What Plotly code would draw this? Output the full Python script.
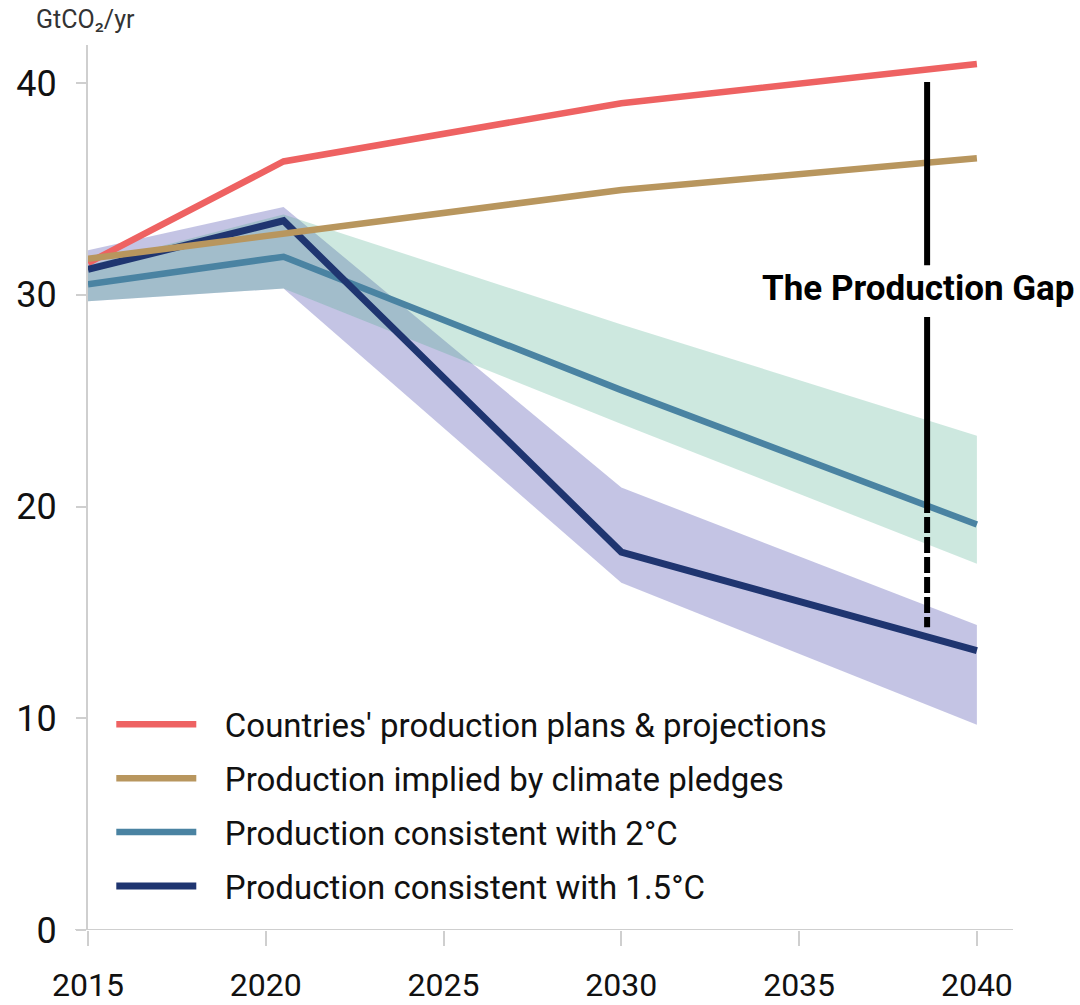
import plotly.graph_objects as go

# ---- data ----
years = [2015, 2020.5, 2030, 2040]
plans = [31.5, 36.3, 39.05, 40.9]          # Countries' production plans & projections
pledges = [31.7, 32.9, 34.95, 36.45]       # Production implied by climate pledges
c2 = [30.5, 31.8, 25.5, 19.15]             # consistent with 2°C
c2_hi = [31.4, 33.8, 28.6, 23.35]
c2_lo = [29.7, 30.3, 23.9, 17.3]
c15 = [31.2, 33.5, 17.85, 13.2]            # consistent with 1.5°C
c15_hi = [32.1, 34.15, 20.9, 14.4]
c15_lo = [29.7, 30.3, 16.4, 9.7]

names = ["Countries' production plans & projections",
         "Production implied by climate pledges",
         "Production consistent with 2°C",
         "Production consistent with 1.5°C"]

x_ticks = [2015, 2020, 2025, 2030, 2035, 2040]
y_ticks = [0, 10, 20, 30, 40]

gap_x = 2038.6
gap_solid_1 = [40.05, 31.4]
gap_solid_2 = [28.95, 20.45]
gap_dashed = [20.45, 14.3]
gap_label = "The Production Gap"
gap_label_x = 2038.35
gap_label_y = 30.3

RED = "#EE6262"
TAN = "#B8965E"
TEAL = "#4A83A2"
NAVY = "#1F3570"
GRID = "#CFCFCF"
TXT = "#111111"
FONT = "Roboto"
PAD = "\u2002\u2009"  # visual gap between legend line and label

fig = go.Figure()

# uncertainty bands (purple under green)
fig.add_trace(go.Scatter(x=years + years[::-1], y=c15_hi + c15_lo[::-1],
                         fill="toself", fillcolor="rgba(58,58,165,0.30)",
                         line=dict(width=0), mode="lines", showlegend=False,
                         hoverinfo="skip"))
fig.add_trace(go.Scatter(x=years + years[::-1], y=c2_hi + c2_lo[::-1],
                         fill="toself", fillcolor="rgba(70,170,137,0.27)",
                         line=dict(width=0), mode="lines", showlegend=False,
                         hoverinfo="skip"))

def line_trace(y, name, color, rank, width=6.5):
    return go.Scatter(x=years, y=y, name=PAD + name, mode="lines",
                      line=dict(color=color, width=width),
                      legendrank=rank, legendgroup=name)

fig.add_trace(line_trace(plans, names[0], RED, 1))
fig.add_trace(line_trace(c2, names[2], TEAL, 3))
fig.add_trace(line_trace(c15, names[3], NAVY, 4, width=7))
fig.add_trace(line_trace(pledges, names[1], TAN, 2))

# production gap marker
for seg, dash in [(gap_solid_1, "solid"), (gap_solid_2, "solid"), (gap_dashed, "16px,4px")]:
    fig.add_trace(go.Scatter(x=[gap_x, gap_x], y=seg, mode="lines",
                             line=dict(color="#000000", width=6, dash=dash),
                             showlegend=False, hoverinfo="skip"))

fig.add_annotation(x=gap_label_x, y=gap_label_y, text="<b>" + gap_label + "</b>",
                   showarrow=False, xanchor="center", yanchor="middle",
                   font=dict(family=FONT, size=35, color="#000000"))

# y unit label
fig.add_annotation(xref="paper", yref="paper", x=-54 / 896, y=1 + 25 / 885,
                   text="GtCO₂/yr", showarrow=False, xanchor="left", yanchor="middle",
                   font=dict(family=FONT, size=25, color="#333333"))

# x axis baseline extending beyond plot
fig.add_shape(type="line", xref="paper", yref="y", x0=-13 / 896, x1=925 / 896,
              y0=0, y1=0, line=dict(color=GRID, width=2), layer="below")

fig.update_layout(
    width=1080, height=1005,
    margin=dict(l=88, r=96, t=45, b=75),
    plot_bgcolor="white", paper_bgcolor="white",
    font=dict(family=FONT, color=TXT),
    showlegend=True,
    legend=dict(x=0.026, y=0.264, xanchor="left", yanchor="top",
                font=dict(family=FONT, size=33, color=TXT),
                itemwidth=80, tracegroupgap=8, traceorder="grouped",
                bgcolor="rgba(0,0,0,0)"),
    xaxis=dict(range=[2015, 2040.2], tickvals=x_ticks, showgrid=False,
               zeroline=False, showline=False, ticks="outside", ticklen=15,
               tickcolor=GRID, tickwidth=1.5, ticklabelstandoff=12,
               automargin=False,
               tickfont=dict(family=FONT, size=32, color=TXT)),
    yaxis=dict(range=[0, 41.8], tickvals=y_ticks, showgrid=False,
               zeroline=False, showline=True, linecolor=GRID, linewidth=2,
               ticks="outside", ticklen=10, tickcolor=GRID, tickwidth=1.5,
               ticklabelstandoff=12, automargin=False,
               tickfont=dict(family=FONT, size=36, color=TXT)),
)

fig.write_html("out.html")
